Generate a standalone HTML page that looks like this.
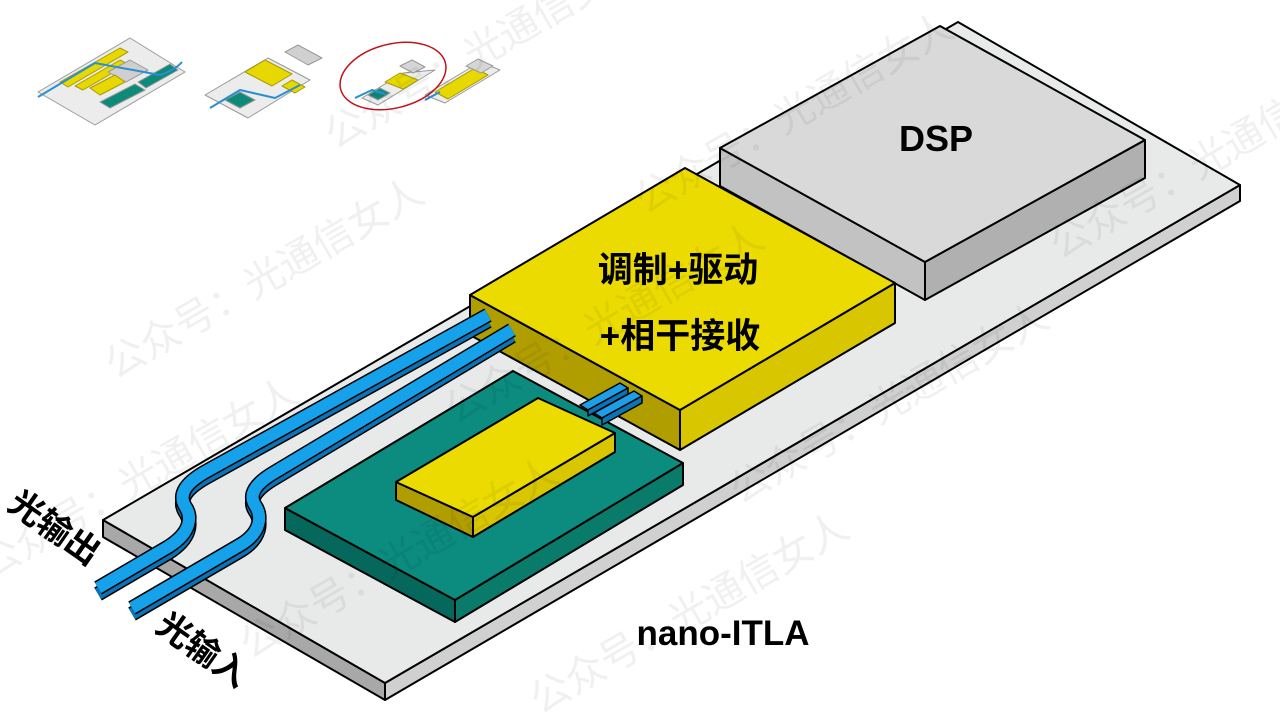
<!DOCTYPE html>
<html><head><meta charset="utf-8"><style>
html,body{margin:0;padding:0;background:#fff;}
svg{display:block}
text{font-family:"Liberation Sans","Noto Sans CJK SC",sans-serif;}
</style></head><body>
<svg width="1280" height="720" viewBox="0 0 1280 720" xmlns="http://www.w3.org/2000/svg" stroke-linejoin="round">
<!-- thumbnails -->
<g stroke="#999" stroke-width="1">
 <polygon points="38,92 130,38 185,72 95,125" fill="#ececec"/>
 <polygon points="60,82 120,48 128,52 68,87" fill="#e6d800" stroke="#a89a00"/>
 <polygon points="75,86 120,60 128,64 83,90" fill="#e6d800" stroke="#a89a00"/>
 <polygon points="108,72 130,60 148,70 126,82" fill="#cfcfcf"/>
 <polygon points="90,88 115,75 125,82 100,95" fill="#e6d800" stroke="#a89a00"/>
 <polygon points="100,102 135,84 145,90 110,108" fill="#0e8a7a"/>
 <polygon points="138,82 170,64 178,70 146,88" fill="#0e8a7a"/>
 <polygon points="205,95 268,58 310,80 248,118" fill="#ececec"/>
 <polygon points="245,72 265,60 292,74 272,86" fill="#e6d800" stroke="#a89a00"/>
 <polygon points="285,52 298,45 322,58 308,65" fill="#d0d0d0"/>
 <polygon points="282,86 292,80 305,87 295,93" fill="#e6d800" stroke="#a89a00"/>
 <polygon points="225,100 240,92 255,100 240,108" fill="#0e8a7a"/>
 <polygon points="362,98 403,73 435,70 378,105" fill="#ececec"/>
 <polygon points="385,82 400,73 418,80 403,89" fill="#e6d800" stroke="#a89a00"/>
 <polygon points="400,66 412,60 425,67 413,73" fill="#d6d6d6"/>
 <polygon points="368,95 380,88 390,93 378,100" fill="#0e8a7a"/>
 <polygon points="425,95 480,62 500,70 445,103" fill="#ececec"/>
 <polygon points="435,92 475,68 488,75 448,99" fill="#e6d800" stroke="#a89a00"/>
 <polygon points="466,66 478,59 493,66 481,73" fill="#d6d6d6"/>
</g>
<g stroke="#2a8fd0" stroke-width="2" fill="none">
 <path d="M38,97 L95,63 L160,75 Q175,70 182,62"/>
 <path d="M210,108 L240,90 L275,98 L300,85"/>
 <path d="M355,98 L372,90 L385,94"/>
 <path d="M425,100 L440,92"/>
</g>
<ellipse cx="393" cy="76" rx="54" ry="32" transform="rotate(-14 393 76)" fill="none" stroke="#c0141c" stroke-width="1.5"/>

<g stroke="#000" stroke-width="2">
<polygon points="103,520 385,683 385,700 103,537" fill="#a8a8a8"/>
<polygon points="385,683 1240,185 1240,201 385,700" fill="#d0d0d0"/>
<polygon points="103,520 958,22 1240,185 385,683" fill="#e8e9e9"/>
<polygon points="720,148 925,262 925,300 720,186" fill="#c2c2c2"/>
<polygon points="925,262 1145,140 1145,178 925,300" fill="#b0b0b0"/>
<polygon points="720,148 940,26 1145,140 925,262" fill="#d9d9d9"/>
<polygon points="285,508 455,600 455,622 285,530" fill="#06685c"/>
<polygon points="455,600 683,463 683,485 455,622" fill="#0a7a6b"/>
<polygon points="285,508 513,371 683,463 455,600" fill="#0b8c7e"/>
<polygon points="470,295 680,410 680,450 470,335" fill="#b09d00"/>
<polygon points="680,410 895,283 895,323 680,450" fill="#d8c600"/>
<polygon points="470,295 685,168 895,283 680,410" fill="#ebdb00"/>
</g>
<g stroke="#000" stroke-width="1.5">
<polygon points="580,405 620,383 628,388 588,410" fill="#1c9ee8"/>
<polygon points="588,410 628,388 628,394 588,416" fill="#0a74b8"/>
<polygon points="594,413 634,391 642,396 602,418" fill="#1c9ee8"/>
<polygon points="602,418 642,396 642,403 602,425" fill="#0a74b8"/>
</g>
<g stroke="#000" stroke-width="2">
<polygon points="396,482 473,517 473,537 396,500" fill="#b09d00"/>
<polygon points="473,517 615,433 615,452 473,537" fill="#d8c600"/>
<polygon points="396,482 538,398 615,433 473,517" fill="#ebdb00"/>
</g>
<g fill="none" stroke-linecap="butt">
 <g transform="translate(0,6)">
  <path d="M98,588 L168,547 C192,532 192,516 185,506 C178,494 186,483 205,472 L488,315" stroke="#000" stroke-width="15"/>
  <path d="M98,588 L168,547 C192,532 192,516 185,506 C178,494 186,483 205,472 L488,315" stroke="#0a74b8" stroke-width="12"/>
  <path d="M132,608 L240,545 C262,532 262,515 255,505 C248,494 256,483 275,472 L512,330" stroke="#000" stroke-width="15"/>
  <path d="M132,608 L240,545 C262,532 262,515 255,505 C248,494 256,483 275,472 L512,330" stroke="#0a74b8" stroke-width="12"/>
 </g>
 <path d="M98,588 L168,547 C192,532 192,516 185,506 C178,494 186,483 205,472 L488,315" stroke="#000" stroke-width="15"/>
 <path d="M98,588 L168,547 C192,532 192,516 185,506 C178,494 186,483 205,472 L488,315" stroke="#16a2ea" stroke-width="12"/>
 <path d="M132,608 L240,545 C262,532 262,515 255,505 C248,494 256,483 275,472 L512,330" stroke="#000" stroke-width="15"/>
 <path d="M132,608 L240,545 C262,532 262,515 255,505 C248,494 256,483 275,472 L512,330" stroke="#16a2ea" stroke-width="12"/>
</g>
<!-- watermarks -->
<g font-size="40" fill="#000" fill-opacity="0.06">
 <text transform="translate(335,150) rotate(-30)">公众号：光通信女人</text>
 <text transform="translate(115,380) rotate(-30)">公众号：光通信女人</text>
 <text transform="translate(645,215) rotate(-30)">公众号：光通信女人</text>
 <text transform="translate(455,425) rotate(-30)">公众号：光通信女人</text>
 <text transform="translate(740,505) rotate(-30)">公众号：光通信女人</text>
 <text transform="translate(1060,260) rotate(-30)">公众号：光通信女人</text>
 <text transform="translate(-10,580) rotate(-30)">公众号：光通信女人</text>
 <text transform="translate(250,660) rotate(-30)">公众号：光通信女人</text>
 <text transform="translate(540,715) rotate(-30)">公众号：光通信女人</text>
</g>
<!-- labels -->
<text x="936" y="151" font-size="36" font-weight="bold" text-anchor="middle" fill="#000">DSP</text>
<text x="678" y="282" font-size="35" font-weight="bold" text-anchor="middle" fill="#000">调制+驱动</text>
<text x="680" y="348" font-size="35" font-weight="bold" text-anchor="middle" fill="#000">+相干接收</text>
<text x="723" y="645" font-size="35" font-weight="bold" text-anchor="middle" fill="#000">nano-ITLA</text>
<text x="0" y="0" font-size="34" font-weight="bold" fill="#000" transform="translate(6,508) rotate(35)">光输出</text>
<text x="0" y="0" font-size="34" font-weight="bold" fill="#000" transform="translate(154,630) rotate(35)">光输入</text>
</svg>
</body></html>
